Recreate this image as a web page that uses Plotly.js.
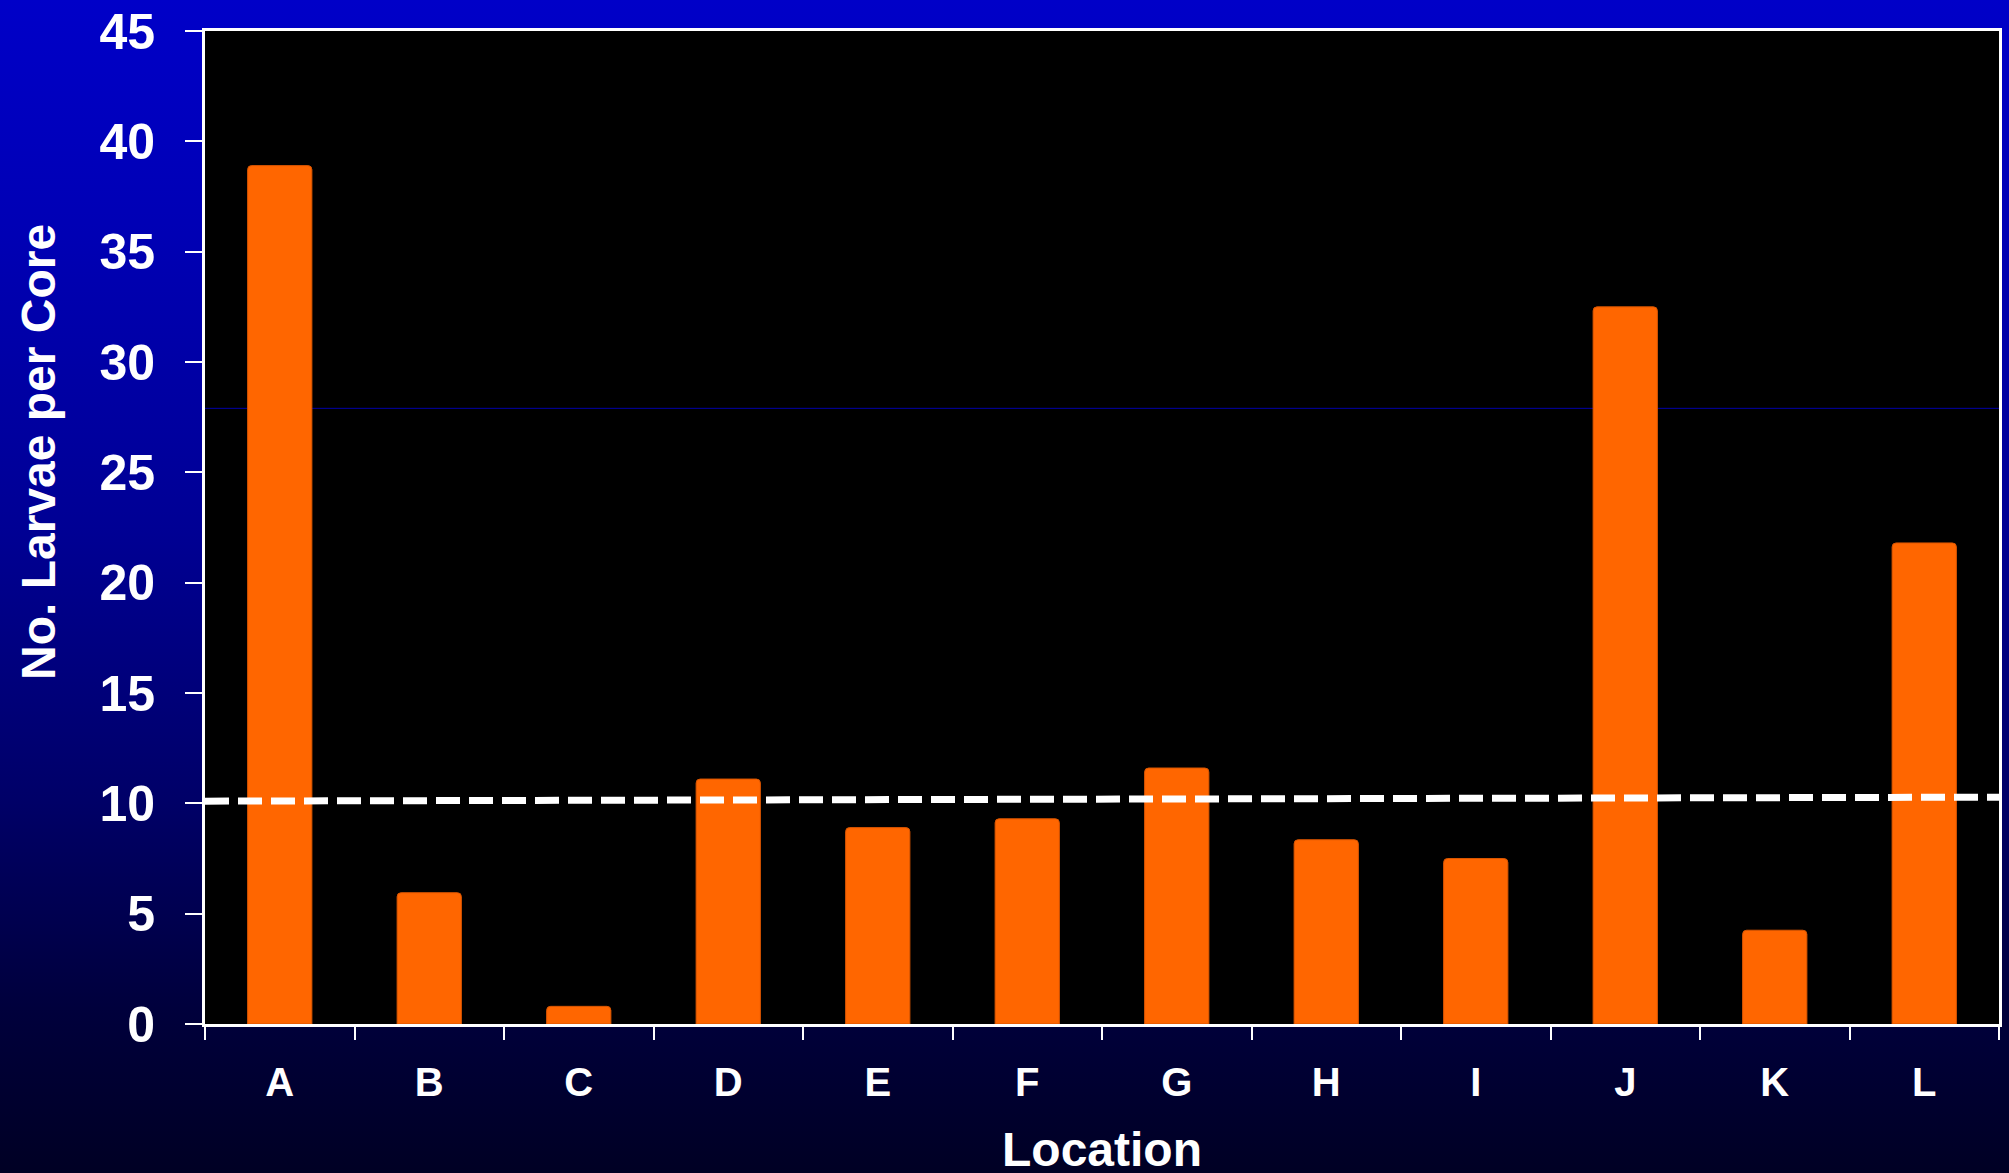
<!DOCTYPE html>
<html>
<head>
<meta charset="utf-8">
<script src="https://cdn.plot.ly/plotly-3.0.1.min.js"></script>
<style>
html, body { margin:0; padding:0; width:2009px; height:1173px; overflow:hidden;
  background: linear-gradient(to bottom, #0000C8 0%, #0000B4 20%, #000094 45%, #000068 68%, #00003C 86%, #000024 100%); }
#chart { width:2009px; height:1173px; }
</style>
</head>
<body>
<div id="chart"></div>
<script>
const categories = ["A","B","C","D","E","F","G","H","I","J","K","L"];
const larvae = [38.9, 5.95, 0.8, 11.1, 8.9, 9.3, 11.6, 8.35, 7.5, 32.5, 4.25, 21.8];
const meanLineX = [0, 1];
const meanLineY = [10.1, 10.28];
const faintLineY = [27.9];
const yTicks = [0,5,10,15,20,25,30,35,40,45];
const yTitleText = "No. Larvae per Core";
const xTitleText = "Location";

const fam = "Liberation Sans, Arial, sans-serif";

const traces = [
  {
    type: "bar",
    x: categories,
    y: larvae,
    width: 0.43,
    marker: {color: "#FF6600", line: {color: "#D95500", width: 1}, cornerradius: 4},
    hoverinfo: "x+y"
  },
  {
    type: "scatter",
    mode: "lines",
    x: meanLineX,
    y: meanLineY,
    xaxis: "x2",
    line: {color: "#FFFFFF", width: 7, dash: "24px,9px"},
    hoverinfo: "skip"
  }
];

const layout = {
  width: 2009, height: 1173,
  paper_bgcolor: "rgba(0,0,0,0)",
  plot_bgcolor: "#000000",
  showlegend: false,
  margin: {l: 205, r: 10, t: 31, b: 149},
  font: {family: fam, color: "#FFFFFF"},
  xaxis: {
    type: "category",
    categoryorder: "array",
    categoryarray: categories,
    showline: true, linecolor: "#FFFFFF", linewidth: 3, mirror: true,
    ticks: "outside", tickson: "boundaries", ticklen: 13, tickwidth: 2, tickcolor: "#FFFFFF",
    tickfont: {family: fam, size: 40, color: "#FFFFFF", weight: "bold"},
    ticklabelstandoff: 21,
    showgrid: false, zeroline: false,
    fixedrange: true
  },
  xaxis2: {
    overlaying: "x", range: [0, 1], visible: false, fixedrange: true
  },
  yaxis: {
    range: [0, 45],
    tickmode: "array", tickvals: yTicks, ticktext: yTicks.map(String),
    showline: true, linecolor: "#FFFFFF", linewidth: 3, mirror: true,
    ticks: "outside", ticklen: 17, tickwidth: 2, tickcolor: "#FFFFFF",
    tickfont: {family: fam, size: 50, color: "#FFFFFF", weight: "bold"},
    ticklabelstandoff: 20,
    showgrid: false, zeroline: false,
    fixedrange: true
  },
  annotations: [{
    text: yTitleText, textangle: -90, showarrow: false,
    xref: "paper", yref: "paper", x: -0.0931, y: 0.576,
    xanchor: "center", yanchor: "middle",
    font: {family: fam, size: 48, color: "#FFFFFF", weight: "bold"}
  }, {
    text: xTitleText, showarrow: false,
    xref: "paper", yref: "paper", x: 0.5, y: -0.126,
    xanchor: "center", yanchor: "middle",
    font: {family: fam, size: 48, color: "#FFFFFF", weight: "bold"}
  }],
  shapes: faintLineY.map(v => ({
    type: "line", xref: "paper", x0: 0, x1: 1, yref: "y", y0: v, y1: v,
    line: {color: "#0000A8", width: 1}, layer: "below"
  }))
};

Plotly.newPlot("chart", traces, layout, {displayModeBar: false, staticPlot: true});
</script>
</body>
</html>
